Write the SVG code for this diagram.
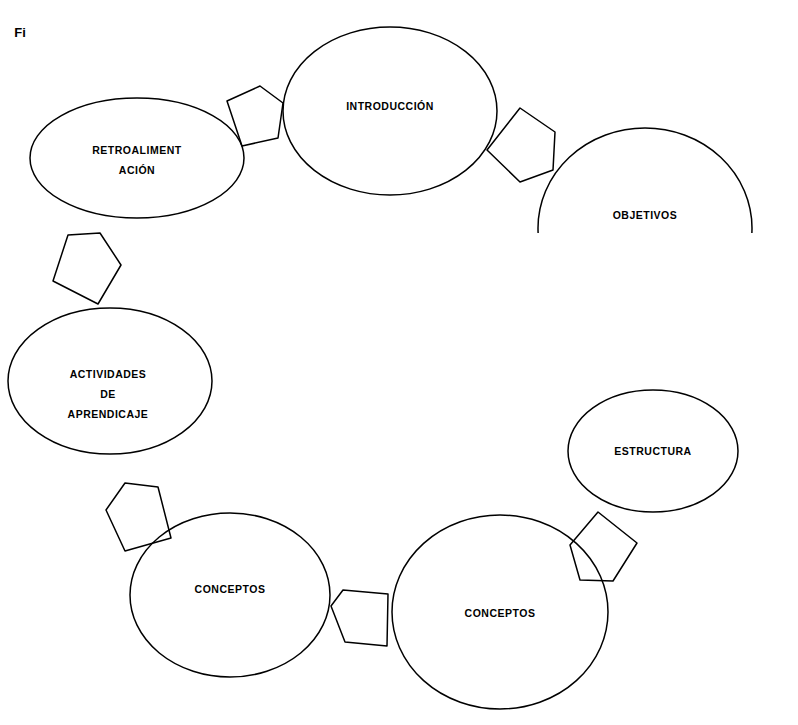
<svg xmlns="http://www.w3.org/2000/svg" width="798" height="725" viewBox="0 0 798 725">
<style>
.n{fill:#fff;stroke:#000;stroke-width:1.5}
.a{fill:none;stroke:#000;stroke-width:1.5;stroke-linejoin:round}
text{font-family:"Liberation Sans",Arial,sans-serif;font-size:10.5px;font-weight:bold;text-anchor:middle;letter-spacing:0.5px}
</style>
<defs><clipPath id="c"><rect x="0" y="0" width="798" height="233"/></clipPath></defs>
<rect width="798" height="725" fill="#fff"/>
<text x="20" y="37" style="font-size:13px;letter-spacing:0">Fi</text>
<g id="retro"><ellipse class="n" cx="137" cy="158" rx="107" ry="60"/><text x="137" y="154">RETROALIMENT</text><text x="137" y="174">ACIÓN</text></g>
<g id="intro"><ellipse class="n" cx="390" cy="111" rx="107" ry="84"/><text x="390" y="110">INTRODUCCIÓN</text></g>
<g id="objetivos"><ellipse class="n" cx="645" cy="228" rx="107" ry="100" clip-path="url(#c)"/><text x="645" y="219">OBJETIVOS</text></g>
<g id="actividades"><ellipse class="n" cx="110" cy="381" rx="102" ry="73"/><text x="108" y="378">ACTIVIDADES</text><text x="108" y="398">DE</text><text x="108" y="418">APRENDICAJE</text></g>
<g id="estructura"><ellipse class="n" cx="653" cy="451" rx="85" ry="61"/><text x="653" y="455">ESTRUCTURA</text></g>
<g id="conceptos1"><ellipse class="n" cx="230" cy="595" rx="100" ry="82"/><text x="230" y="593">CONCEPTOS</text></g>
<g id="conceptos2"><ellipse class="n" cx="500" cy="612" rx="108" ry="97"/><text x="500" y="617">CONCEPTOS</text></g>
<g id="connectors">
<polygon class="a" points="227,101 260,86 283,103 278,138 242,146"/>
<polygon class="a" points="487,150 520,108 555,132 553,170 520,182"/>
<polygon class="a" points="68,235 100,233 121,265 98,304 53,281"/>
<polygon class="a" points="125,483 158,487 171,538 125,551 106,510"/>
<polygon class="a" points="331,606 343,590 388,594 387,646 345,642"/>
<polygon class="a" points="598,512 637,543 613,581 580,580 570,545"/>
</g>
</svg>
